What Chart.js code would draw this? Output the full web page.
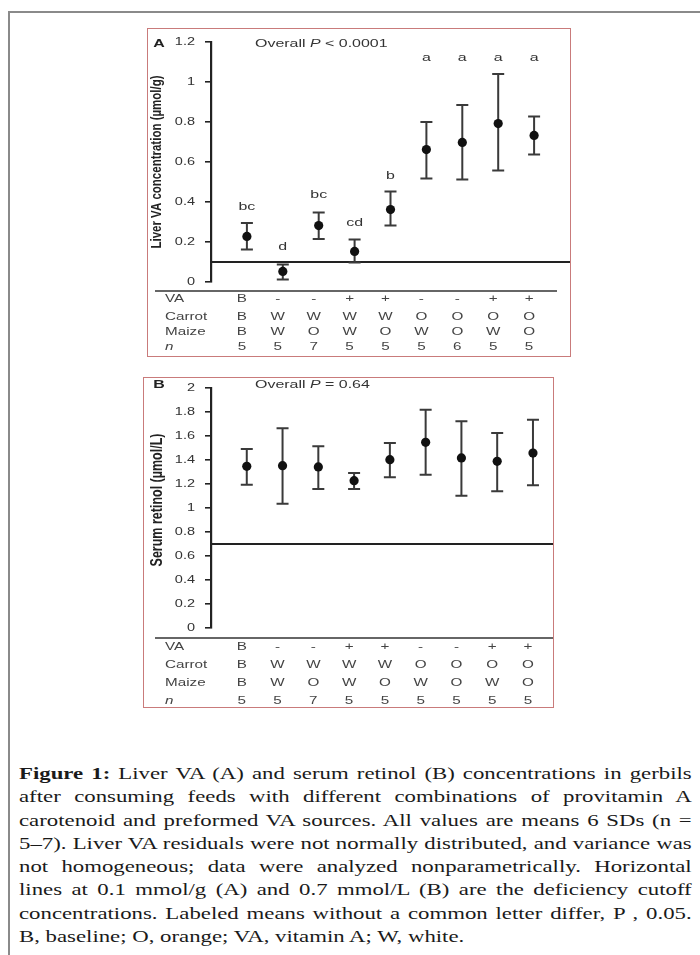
<!DOCTYPE html>
<html>
<head>
<meta charset="utf-8">
<script src="https://cdn.jsdelivr.net/npm/chart.js@4.4.1/dist/chart.umd.min.js"></script>
<style>
    body { margin: 0; width: 700px; height: 955px; background: #fff; position: relative; overflow: hidden; }
    #frame { position: absolute; left: 8px; top: 11px; width: 720px; height: 980px; border-left: 2px solid #8a8a8a; border-top: 2px solid #8a8a8a; }
    .panel { position: absolute; border: 1px solid #c97b7b; background: #fff; }
    .panel canvas { display: block; }
    #caption { position: absolute; left: 19px; top: 762px; width: 502px; transform: scaleX(1.34); transform-origin: 0 0;
               font-family: "Liberation Serif", serif; font-size: 17px; line-height: 23.3px; color: #1a1a1a; }
    #caption div { text-align: justify; text-align-last: justify; white-space: nowrap; }
    #caption div.last { text-align-last: left; }
</style>
</head>
<body>
<div id="frame"></div>
<div class="panel" style="left:147px; top:28px;"><canvas id="liverChart" width="422" height="327"></canvas></div>
<div class="panel" style="left:143px; top:377px;"><canvas id="serumChart" width="409" height="329"></canvas></div>
<div id="caption">
    <div><b>Figure 1:</b> Liver VA (A) and serum retinol (B) concentrations in gerbils</div>
    <div>after consuming feeds with different combinations of provitamin A</div>
    <div>carotenoid and preformed VA sources. All values are means 6 SDs (n =</div>
    <div>5–7). Liver VA residuals were not normally distributed, and variance was</div>
    <div>not homogeneous; data were analyzed nonparametrically. Horizontal</div>
    <div>lines at 0.1 mmol/g (A) and 0.7 mmol/L (B) are the deficiency cutoff</div>
    <div>concentrations. Labeled means without a common letter differ, P , 0.05.</div>
    <div class="last">B, baseline; O, orange; VA, vitamin A; W, white.</div>
</div>
<script>
// === DATA ===
const groups = [1, 2, 3, 4, 5, 6, 7, 8, 9];
const vaRow = ["B", "-", "-", "+", "+", "-", "-", "+", "+"];
const carrotRow = ["B", "W", "W", "W", "W", "O", "O", "O", "O"];
const maizeRow = ["B", "W", "O", "W", "O", "W", "O", "W", "O"];
const nLiver = [5, 5, 7, 5, 5, 5, 6, 5, 5];
const nSerum = [5, 5, 7, 5, 5, 5, 5, 5, 5];

const liverMean = [0.228, 0.053, 0.282, 0.153, 0.362, 0.662, 0.698, 0.792, 0.733];
const liverLow = [0.162, 0.012, 0.215, 0.098, 0.282, 0.518, 0.512, 0.557, 0.637];
const liverHigh = [0.295, 0.087, 0.348, 0.212, 0.453, 0.800, 0.885, 1.040, 0.827];
const liverLetters = ["bc", "d", "bc", "cd", "b", "a", "a", "a", "a"];
const liverLetterY = [0.375, 0.175, 0.435, 0.295, 0.53, 1.12, 1.12, 1.12, 1.12];
const liverCutoff = 0.1;

const serumMean = [1.347, 1.353, 1.342, 1.228, 1.403, 1.547, 1.417, 1.389, 1.458];
const serumLow = [1.194, 1.036, 1.158, 1.158, 1.256, 1.278, 1.103, 1.139, 1.189];
const serumHigh = [1.492, 1.664, 1.514, 1.292, 1.542, 1.819, 1.722, 1.625, 1.736];
const serumCutoff = 0.7;

// === TEXT HELPER (the figure is stretched sideways) ===
const SX = 1.45;
function txt(ctx, s, x, y, font, align, color, rotate, sx) {
    ctx.save();
    ctx.translate(x, y);
    if (rotate) {
        ctx.rotate(-Math.PI / 2);
        ctx.scale(1, sx || SX);
    } else {
        ctx.scale(sx || SX, 1);
    }
    ctx.font = font;
    ctx.textAlign = align || "left";
    ctx.textBaseline = "middle";
    ctx.fillStyle = color || "#333";
    ctx.fillText(s, 0, 0);
    const w = ctx.measureText(s).width * (sx || SX);
    ctx.restore();
    return w;
}

const SANS = '"Liberation Sans", Arial, sans-serif';

// === PANEL ===
function makePanel(id, p) {
    return new Chart(document.getElementById(id), {
        type: "scatter",
        data: {
            datasets: [{
                data: groups.map((g, i) => ({ x: g, y: p.mean[i] })),
                pointRadius: 4.6,
                pointHoverRadius: 4.6,
                backgroundColor: "#111",
                borderWidth: 0
            }]
        },
        options: {
            responsive: false,
            animation: false,
            events: [],
            layout: { padding: { top: p.padTop, bottom: p.padBottom, left: 0, right: 0 }, autoPadding: false },
            plugins: { legend: { display: false }, tooltip: { enabled: false } },
            scales: {
                x: { type: "linear", display: false, min: 0, max: p.xMax },
                y: {
                    min: 0, max: p.yMax,
                    afterFit: s => { s.width = p.axisLeft; },
                    ticks: { stepSize: 0.2, display: false },
                    grid: { drawOnChartArea: false, drawTicks: true, tickLength: 6, color: "#222", lineWidth: 1.6 },
                    border: { display: true, color: "#222", width: 2.2 }
                }
            }
        },
        plugins: [{
            id: "extras",
            beforeDatasetsDraw(chart) {
                const { ctx, chartArea: a, scales: { x, y } } = chart;
                ctx.save();
                // cutoff line
                ctx.strokeStyle = "#222";
                ctx.lineWidth = 1.8;
                const yc = y.getPixelForValue(p.cutoff);
                ctx.beginPath();
                ctx.moveTo(a.left, yc);
                ctx.lineTo(a.right, yc);
                ctx.stroke();
                // error bars
                ctx.strokeStyle = "#3a3a3a";
                ctx.lineWidth = 2;
                groups.forEach((g, i) => {
                    const px = x.getPixelForValue(g);
                    const y1 = y.getPixelForValue(p.low[i]);
                    const y2 = y.getPixelForValue(p.high[i]);
                    ctx.beginPath();
                    ctx.moveTo(px, y1); ctx.lineTo(px, y2);
                    ctx.moveTo(px - 6, y1); ctx.lineTo(px + 6, y1);
                    ctx.moveTo(px - 6, y2); ctx.lineTo(px + 6, y2);
                    ctx.stroke();
                });
                ctx.restore();
            },
            afterDraw(chart) {
                const { ctx, chartArea: a, scales: { x, y } } = chart;
                // tick labels
                y.ticks.forEach(t => {
                    const label = String(Math.round(t.value * 10) / 10);
                    txt(ctx, label, a.left - 16, y.getPixelForValue(t.value), "10px " + SANS, "right", "#333");
                });
                // axis title
                txt(ctx, p.title, a.left - 54, (a.top + a.bottom) / 2 + p.titleShift, "bold " + p.titleSize + "px " + SANS, "center", "#222", true, 1.35);
                // panel letter and overall P
                const ty = a.top + p.overallShift;
                txt(ctx, p.letter, a.left - 52, ty, "bold 11px " + SANS, "center", "#222");
                let cx = a.left + 44;
                cx += txt(ctx, "Overall ", cx, ty, "11px " + SANS, "left", "#333");
                cx += txt(ctx, "P", cx, ty, "italic 11px " + SANS, "left", "#333");
                txt(ctx, p.overallRest, cx, ty, "11px " + SANS, "left", "#333");
                // significance letters
                if (p.letters) {
                    groups.forEach((g, i) => {
                        txt(ctx, p.letters[i], x.getPixelForValue(g), y.getPixelForValue(p.letterY[i]), "11px " + SANS, "center", "#333");
                    });
                }
                // table
                ctx.save();
                ctx.strokeStyle = "#333";
                ctx.lineWidth = 1.5;
                ctx.beginPath();
                ctx.moveTo(a.left - 56, a.bottom + p.divider);
                ctx.lineTo(a.left + 346, a.bottom + p.divider);
                ctx.stroke();
                ctx.restore();
                const rows = [["VA", vaRow], ["Carrot", carrotRow], ["Maize", maizeRow], ["n", p.n]];
                rows.forEach(([label, vals], r) => {
                    const ry = a.bottom + p.rows[r];
                    txt(ctx, label, a.left - 46, ry, (label === "n" ? "italic " : "") + "10.5px " + SANS, "left", "#444");
                    groups.forEach((g, i) => {
                        txt(ctx, String(vals[i]), x.getPixelForValue(g) - 5, ry, "10.5px " + SANS, "center", "#444");
                    });
                });
            }
        }]
    });
}

makePanel("liverChart", {
    mean: liverMean, low: liverLow, high: liverHigh, cutoff: liverCutoff,
    letters: liverLetters, letterY: liverLetterY, n: nLiver,
    yMax: 1.2, xMax: 10, axisLeft: 63, padTop: 13, padBottom: 74,
    title: "Liver VA concentration (µmol/g)", titleSize: 11.5, titleShift: 0,
    letter: "A", overallRest: " < 0.0001", overallShift: 2,
    divider: 9, rows: [17, 35, 50, 65]
});

makePanel("serumChart", {
    mean: serumMean, low: serumLow, high: serumHigh, cutoff: serumCutoff,
    letters: null, n: nSerum,
    yMax: 2, xMax: 9.56, axisLeft: 67, padTop: 10, padBottom: 79,
    title: "Serum retinol (µmol/L)", titleSize: 12.5, titleShift: -8,
    letter: "B", overallRest: " = 0.64", overallShift: -3,
    divider: 10, rows: [19, 37, 55, 73]
});
</script>
</body>
</html>
